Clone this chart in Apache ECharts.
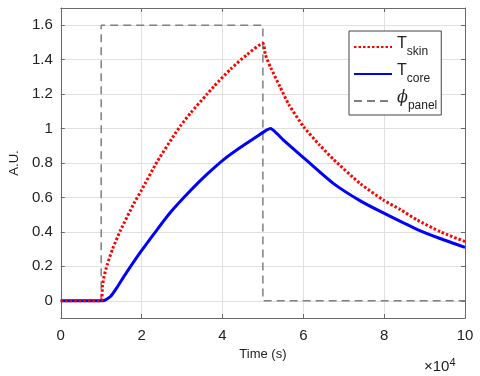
<!DOCTYPE html>
<html>
<head>
<meta charset="utf-8">
<script src="https://cdn.jsdelivr.net/npm/echarts@6/dist/echarts.min.js"></script>
<style>
  html, body { margin: 0; padding: 0; background: #fff; }
  #chart { width: 480px; height: 376px; }
</style>
</head>
<body>
<div id="chart"></div>
<script>
// time in units of 1e4 s
const skinTime = [0, 1.0, 1.03, 1.07, 1.15, 1.28, 1.48, 1.81, 1.98, 2.39, 2.8, 2.96, 3.21, 3.62, 3.79, 4.2, 4.61, 5.0,
  5.06, 5.19, 5.43, 5.64, 6.01, 6.4, 6.75, 7.41, 7.98, 8.4, 8.81, 9.4, 10];
const skinValues = [0, 0, 0.08, 0.14, 0.21, 0.3, 0.41, 0.565, 0.635, 0.81, 0.96, 1.015, 1.09, 1.2, 1.245, 1.345, 1.43, 1.495,
  1.43, 1.355, 1.24, 1.14, 1.01, 0.905, 0.82, 0.68, 0.585, 0.53, 0.47, 0.4, 0.344];

const coreTime = [0, 1.05, 1.23, 1.4, 1.56, 1.98, 2.39, 2.72, 3.21, 3.62, 4.03, 4.44, 4.86, 5.05, 5.19,
  5.35, 5.51, 6.01, 6.75, 7.41, 7.98, 8.81, 9.4, 10];
const coreValues = [0, 0, 0.025, 0.08, 0.14, 0.285, 0.415, 0.515, 0.64, 0.735, 0.82, 0.89, 0.955, 0.985, 1.0,
  0.97, 0.933, 0.83, 0.68, 0.58, 0.51, 0.415, 0.36, 0.31];

const panelTime = [0, 1.0, 1.0, 5.0, 5.0, 10];
const panelValues = [0, 0, 1.6, 1.6, 0, 0];

const xTicks = [0, 2, 4, 6, 8, 10];
const yTicks = [0, 0.2, 0.4, 0.6, 0.8, 1, 1.2, 1.4, 1.6];

const zip = (xs, ys) => xs.map((x, i) => [x, ys[i]]);

const font = 'Liberation Sans, Arial, sans-serif';
const axisGray = '#6a6a6a';

const chart = echarts.init(document.getElementById('chart'));

const baseX = {
  type: 'value', min: 0, max: 10, interval: 2,
  axisLine: { show: true, onZero: false, lineStyle: { color: axisGray } },
  axisTick: { show: true, inside: true, length: 4, lineStyle: { color: axisGray } },
  splitLine: { show: false }
};
const baseY = {
  type: 'value', min: -0.1, max: 1.7,
  axisLine: { show: true, onZero: false, lineStyle: { color: axisGray } },
  axisTick: { show: true, inside: true, length: 4, lineStyle: { color: axisGray } },
  splitLine: { show: false }
};

const hideSymbol = { opacity: 0 };

chart.setOption({
  animation: false,
  grid: { left: 60, right: 15, top: 8, bottom: 58, show: false },
  legend: {
    orient: 'vertical',
    left: 349,
    top: 31,
    itemWidth: 38,
    itemHeight: 10,
    itemGap: 3,
    padding: [3, 4, 3, 4],
    backgroundColor: '#fff',
    borderColor: '#444',
    borderWidth: 1,
    borderRadius: 0,
    itemStyle: hideSymbol,
    data: [
      { name: 'skin', itemStyle: hideSymbol },
      { name: 'core', itemStyle: hideSymbol },
      { name: 'panel', itemStyle: hideSymbol }
    ],
    formatter: (name) => name === 'panel'
      ? '{p|\u03d5}{s|panel}'
      : '{t|T}{s|' + name + '}',
    textStyle: {
      fontFamily: font,
      color: '#222',
      rich: {
        t: { fontSize: 16, fontFamily: font, color: '#222', verticalAlign: 'top', lineHeight: 22 },
        p: { fontSize: 16, fontFamily: 'DejaVu Serif', fontStyle: 'italic', color: '#222', verticalAlign: 'top', lineHeight: 22 },
        s: { fontSize: 12, fontFamily: font, color: '#222', verticalAlign: 'bottom', lineHeight: 22, padding: [12, 0, 0, 0] }
      }
    }
  },
  xAxis: [
    Object.assign({}, baseX, {
      position: 'bottom',
      name: 'Time (s)',
      nameLocation: 'middle',
      nameGap: 30,
      nameTextStyle: { fontFamily: font, fontSize: 13, color: '#222' },
      axisLabel: {
        margin: 10, fontFamily: font, fontSize: 15, color: '#222',
        customValues: xTicks
      },
      splitLine: { show: true, lineStyle: { color: '#e0e0e0', width: 1 } }
    }),
    Object.assign({}, baseX, { position: 'top', axisLabel: { show: false } })
  ],
  yAxis: [
    Object.assign({}, baseY, {
      position: 'left',
      name: 'A.U.',
      nameLocation: 'middle',
      nameGap: 38,
      nameTextStyle: { fontFamily: font, fontSize: 13, color: '#222' },
      axisTick: { show: true, inside: true, length: 4, lineStyle: { color: axisGray }, customValues: yTicks },
      axisLabel: {
        margin: 8, fontFamily: font, fontSize: 15, color: '#222',
        customValues: yTicks
      },
      splitLine: { show: true, lineStyle: { color: '#e0e0e0', width: 1 } }
    }),
    Object.assign({}, baseY, {
      position: 'right',
      axisLabel: { show: false },
      axisTick: { show: true, inside: true, length: 4, lineStyle: { color: axisGray }, customValues: yTicks }
    })
  ],
  graphic: [
    {
      type: 'text',
      left: 424,
      top: 357,
      style: {
        text: '\u00d710{e|4}',
        font: '15px ' + font,
        fill: '#222',
        rich: {
          e: { fontSize: 11, fontFamily: font, fill: '#222', verticalAlign: 'top', padding: [0, 0, 8, 0] }
        }
      }
    }
  ],
  series: [
    {
      name: 'panel',
      type: 'line',
      data: zip(panelTime, panelValues),
      symbol: 'none',
      lineStyle: { color: '#7f7f7f', width: 1.5, type: [8, 5] },
      itemStyle: { color: '#7f7f7f' },
      z: 1
    },
    {
      name: 'core',
      type: 'line',
      data: zip(coreTime, coreValues),
      symbol: 'none',
      smooth: 0.2,
      lineStyle: { color: '#0000ff', width: 3 },
      itemStyle: { color: '#0000ff' },
      z: 3
    },
    {
      name: 'skin',
      type: 'line',
      data: zip(skinTime, skinValues),
      symbol: 'none',
      smooth: 0.2,
      lineStyle: { color: '#ff0000', width: 3, type: [2.5, 2] },
      itemStyle: { color: '#ff0000' },
      z: 4
    }
  ]
});
</script>
</body>
</html>
